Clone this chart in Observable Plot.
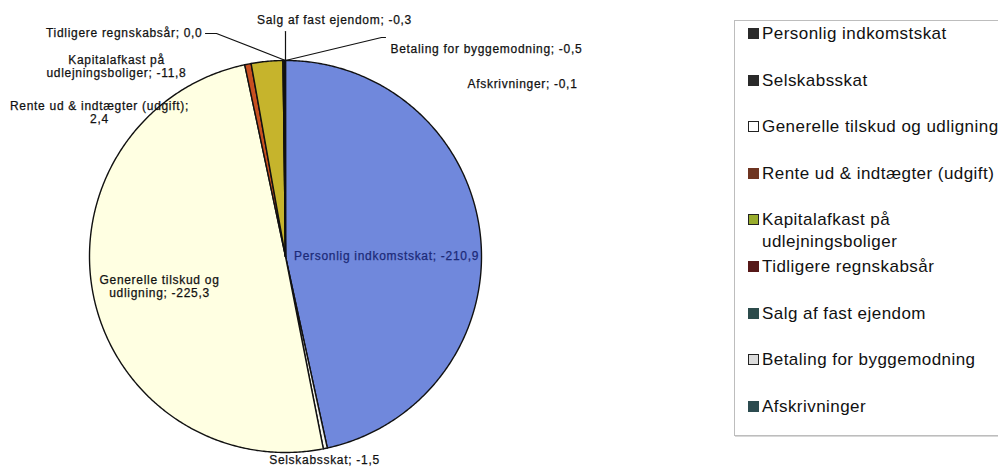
<!DOCTYPE html>
<html><head><meta charset="utf-8">
<script src="https://cdn.jsdelivr.net/npm/d3@7"></script>
<script src="https://cdn.jsdelivr.net/npm/@observablehq/plot@0.6"></script>
<style>
html,body{margin:0;padding:0;background:#fff;}
#wrap{position:relative;width:998px;height:468px;overflow:hidden;font-family:"Liberation Sans",Arial,sans-serif;}
#chart svg text{letter-spacing:0.7px;}
#legend{position:absolute;left:734px;top:20px;width:300px;height:414px;border:1px solid #bdbdbd;box-shadow:1px 1px 0 #d8d8d8;background:#fff;}
.item{position:absolute;left:13px;font-size:17px;letter-spacing:0.45px;color:#111;line-height:22px;display:flex;white-space:nowrap;}
.sw{width:11px;height:11px;margin-top:5px;margin-right:3px;box-sizing:border-box;flex:none;}
</style></head>
<body><div id="wrap"><div id="chart"></div><div id="legend"></div></div>
<script>
// ---- data ----
const categories = [
  "Personlig indkomstskat",
  "Selskabsskat",
  "Generelle tilskud og udligning",
  "Rente ud & indtægter (udgift)",
  "Kapitalafkast på udlejningsboliger",
  "Tidligere regnskabsår",
  "Salg af fast ejendom",
  "Betaling for byggemodning",
  "Afskrivninger"
];
const values = [-210.9, -1.5, -225.3, 2.4, -11.8, 0.0, -0.3, -0.5, -0.1];
const sliceColors = ["#7088dc", "#f4f4ec", "#ffffe2", "#c85020", "#c6b42c", "#5a1a1a", "#2c4c4c", "#e0e0e0", "#2c4c50"];
const legendFill   = ["#2a2a2a", "#2a2a2a", "#ffffff", "#6e3420", "#98ac2c", "#561818", "#2c4c4c", "#dcdcdc", "#2c4c50"];
const legendBorder = ["#2a2a2a", "#2a2a2a", "#222222", "#6e3420", "#222222", "#561818", "#2c4c4c", "#222222", "#2c4c50"];

// ---- layout (pixels) ----
const W = 998, H = 468;
const cx = 285, cy = 256, R = 196;
const labelLayout = [
  {x: 386, y: 255, anchor: "middle", wrap: 0, color: "#1c2a78"},
  {x: 324, y: 459, anchor: "middle", wrap: 0},
  {x: 159, y: 286, anchor: "middle", wrap: 3},
  {x: 99,  y: 112, anchor: "middle", wrap: 5},
  {x: 116, y: 66,  anchor: "middle", wrap: 2},
  {x: 202, y: 32,  anchor: "end",    wrap: 0},
  {x: 334, y: 19,  anchor: "middle", wrap: 0},
  {x: 390, y: 48,  anchor: "start",  wrap: 0},
  {x: 467, y: 83,  anchor: "start",  wrap: 0}
];
const leaders = [
  {cat: 5, pts: [[205, 33], [216, 33], [285, 60]]},
  {cat: 6, pts: [[285, 31], [285, 60]]},
  {cat: 7, pts: [[285, 60], [381, 37], [385, 37]]}
];
const legendWrap = {4: 2};

// ---- helpers ----
const U = ([px, py]) => ({x: (px - cx) / R, y: (cy - py) / R});
const fmt = v => v.toFixed(1).replace(".", ",").replace("-0,0", "0,0");
const wrapText = (s, n) => {
  if (!n) return s;
  const w = s.split(" ");
  return w.slice(0, n).join(" ") + "\n" + w.slice(n).join(" ");
};

const rows = categories.map((c, i) => ({name: c, value: values[i], i}));
const arcs = d3.pie().sort(null).value(d => Math.abs(d.value))(rows);

const marks = [];
arcs.forEach(a => {
  const pts = [{x: 0, y: 0}];
  const span = a.endAngle - a.startAngle;
  const n = Math.max(2, Math.ceil(span * 180 / Math.PI * 2));
  for (let k = 0; k <= n; k++) {
    const t = a.startAngle + span * k / n;
    pts.push({x: Math.sin(t), y: Math.cos(t)});
  }
  marks.push(Plot.line(pts, {
    x: "x", y: "y", curve: "linear-closed",
    fill: sliceColors[a.data.i], stroke: "#111", strokeWidth: 1.4, strokeLinejoin: "round"
  }));
});

leaders.forEach(l => {
  marks.push(Plot.line(l.pts.map(U), {x: "x", y: "y", stroke: "#111", strokeWidth: 1.2}));
});

const labels = rows.map((r, i) => {
  const L = labelLayout[i];
  const p = U([L.x, L.y]);
  return {x: p.x, y: p.y, text: wrapText(`${r.name}; ${fmt(r.value)}`, L.wrap), anchor: L.anchor, color: L.color || "#111"};
});
["start", "middle", "end"].forEach(anc => {
  const sub = labels.filter(d => d.anchor === anc);
  if (!sub.length) return;
  marks.push(Plot.text(sub, {
    x: "x", y: "y", text: "text", textAnchor: anc, fill: d => d.color,
    stroke: d => d.color, strokeWidth: 0.25,
    fontSize: 12, lineHeight: 1.05, fontFamily: "Liberation Sans, Arial, sans-serif"
  }));
});

const chart = Plot.plot({
  width: W, height: H,
  margin: 0,
  x: {type: "linear", domain: [-cx / R, (W - cx) / R], range: [0, W], axis: null},
  y: {type: "linear", domain: [-(H - cy) / R, cy / R], range: [H, 0], axis: null},
  style: {background: "transparent"},
  marks
});
document.getElementById("chart").appendChild(chart);

// ---- legend ----
const leg = document.getElementById("legend");
categories.forEach((c, i) => {
  const it = document.createElement("div");
  it.className = "item";
  it.style.top = (2 + i * 46.6) + "px";
  const sw = document.createElement("span");
  sw.className = "sw";
  sw.style.background = legendFill[i];
  sw.style.border = `1.5px solid ${legendBorder[i]}`;
  const tx = document.createElement("span");
  tx.textContent = c;
  if (legendWrap[i]) { tx.innerText = wrapText(c, legendWrap[i]); tx.style.whiteSpace = "pre"; }
  it.appendChild(sw); it.appendChild(tx);
  leg.appendChild(it);
});
</script>
</body></html>
